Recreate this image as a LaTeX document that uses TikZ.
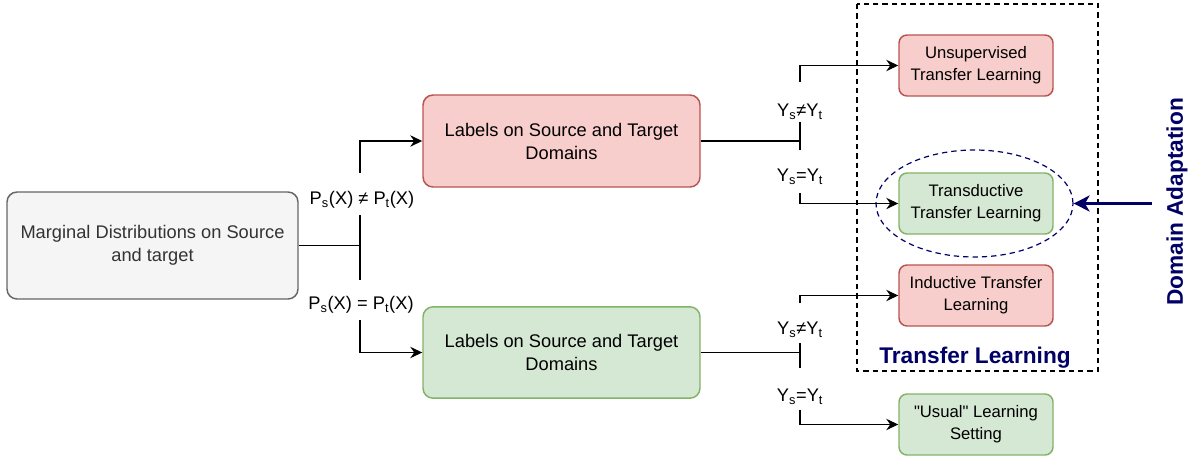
\documentclass[tikz,border=0pt]{standalone}
\usepackage{fontspec}
\setmainfont{Liberation Sans}
\usetikzlibrary{arrows.meta,shapes.geometric}
\definecolor{grayfill}{HTML}{F5F5F5}
\definecolor{graydraw}{HTML}{666666}
\definecolor{graytext}{HTML}{333333}
\definecolor{redfill}{HTML}{F8CECC}
\definecolor{reddraw}{HTML}{B85450}
\definecolor{greenfill}{HTML}{D5E8D4}
\definecolor{greendraw}{HTML}{82B366}
\definecolor{navy}{HTML}{000066}
\tikzset{
  bigbox/.style={rounded corners=7.5pt, line width=1.1pt, align=center, inner sep=0pt,
    minimum width=207.75pt, minimum height=68.5pt, font=\fontsize{13.7}{17.3}\selectfont},
  smallbox/.style={rounded corners=6pt, line width=1.1pt, align=center, inner sep=0pt,
    minimum width=115.5pt, minimum height=45.75pt, font=\fontsize{12.5}{16.5}\selectfont},
  redb/.style={fill=redfill, draw=reddraw},
  greenb/.style={fill=greenfill, draw=greendraw},
  conn/.style={line width=1.15pt, black},
  arr/.style={conn, -{Stealth[length=9pt,width=8.5pt,inset=3pt]}},
  lbl/.style={inner sep=0pt, font=\fontsize{13.7}{16}\selectfont},
  title/.style={inner sep=0pt, text=navy, font=\fontsize{17}{20}\selectfont\bfseries},
}
\begin{document}
\begin{tikzpicture}[x=0.75pt, y=-0.75pt]
\useasboundingbox (0,0) rectangle (1193,458);

% dashed Transfer Learning frame
\draw[line width=0.9pt, dash pattern=on 4pt off 3pt] (857,4) rectangle (1098,371);

% left node
\node[bigbox, fill=grayfill, draw=graydraw, text=graytext, minimum width=218.25pt, minimum height=80.25pt]
  (m) at (152.5,245.5) {Marginal Distributions on Source\\and target};

% middle nodes
\node[bigbox, redb, minimum height=69pt] (r1) at (561.5,141) {Labels on Source and Target\\Domains};
\node[bigbox, greenb] (g1) at (561.5,352.5) {Labels on Source and Target\\Domains};

% right nodes
\node[smallbox, redb] (u) at (976,65.5) {Unsupervised\\Transfer Learning};
\node[smallbox, greenb] (t) at (976,203.5) {Transductive\\Transfer Learning};
\node[smallbox, redb] (i) at (976,295.5) {Inductive Transfer\\Learning};
\node[smallbox, greenb] (us) at (976,424.5) {\textquotedbl Usual\textquotedbl{} Learning\\Setting};

% domain adaptation ellipse
\node[ellipse, draw=navy, line width=0.9pt, dash pattern=on 4pt off 3pt,
  minimum width=147.75pt, minimum height=80.25pt, inner sep=0pt] (e) at (974.5,203.5) {};

% left junction
\coordinate (J) at (360,245.5);
\coordinate (Ja) at (360,215);
\coordinate (Jb) at (360,280);
\coordinate (Jt) at (360,173);
\coordinate (Jl) at (360,320);
\draw[conn] (m.east) -- (J);
\draw[conn] (Ja) -- (Jb);
\draw[arr] (Jt) |- (r1.west);
\draw[arr] (Jl) |- (g1.west);
\node[lbl] (pneq) at (362,200) {P\textsubscript{s}(X) ≠ P\textsubscript{t}(X)};
\node[lbl] (peq) at (361,305) {P\textsubscript{s}(X) = P\textsubscript{t}(X)};

% top right junction
\coordinate (K) at (800,141);
\coordinate (Ka) at (800,122);
\coordinate (Kb) at (800,150);
\coordinate (Kt) at (800,82);
\coordinate (Kl) at (800,193);
\draw[conn] (r1.east) -- (K);
\draw[conn] (Ka) -- (Kb);
\draw[arr] (Kt) |- (u.west);
\draw[arr] (Kl) |- (t.west);
\node[lbl] (y1) at (800,112) {Y\textsubscript{s}≠Y\textsubscript{t}};
\node[lbl] (y2) at (800,177) {Y\textsubscript{s}=Y\textsubscript{t}};

% bottom right junction
\coordinate (L) at (800,352.5);
\coordinate (La) at (800,343);
\coordinate (Lb) at (800,368);
\coordinate (Lt) at (800,303);
\coordinate (Ll) at (800,410);
\draw[conn] (g1.east) -- (L);
\draw[conn] (La) -- (Lb);
\draw[arr] (Lt) |- (i.west);
\draw[arr] (Ll) |- (us.west);
\node[lbl] (y3) at (800,330) {Y\textsubscript{s}≠Y\textsubscript{t}};
\node[lbl] (y4) at (800,397) {Y\textsubscript{s}=Y\textsubscript{t}};

% titles
\node[title] (tl) at (975,358) {Transfer Learning};
\node[title, rotate=90] (da) at (1177,202) {Domain Adaptation};
\coordinate (daArrow) at (1152,203.5);
\draw[navy, line width=2.2pt, -{Stealth[length=12pt,width=12pt,inset=3.5pt]}] (daArrow) -- (e.east);
\end{tikzpicture}
\end{document}
